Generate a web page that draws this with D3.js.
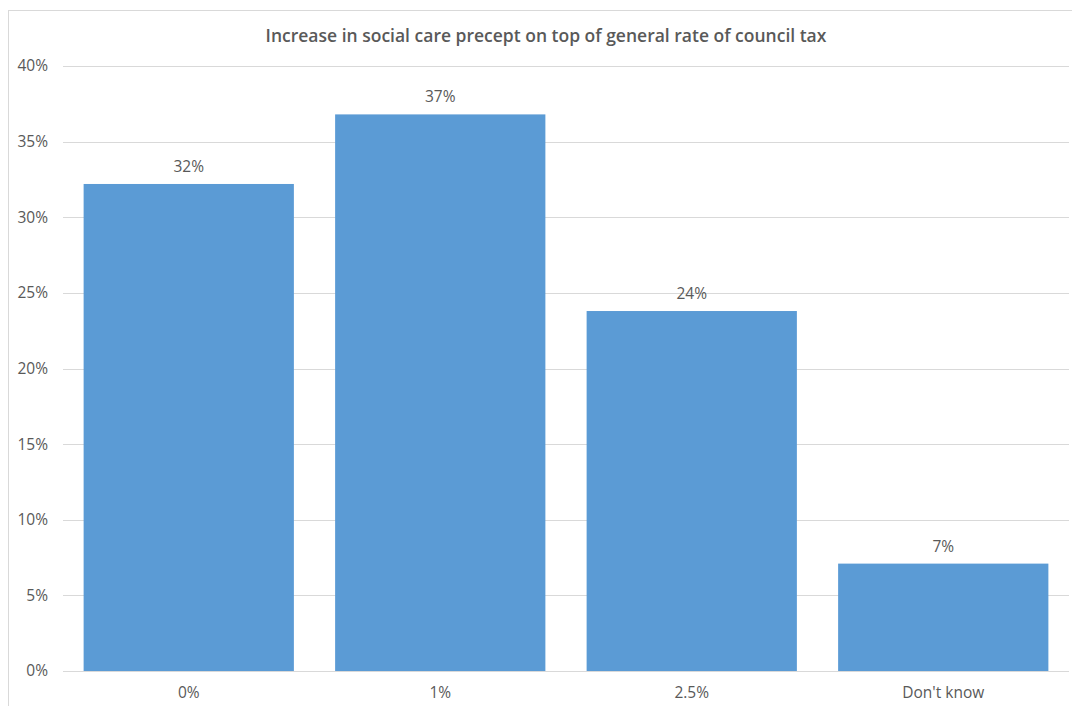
<!DOCTYPE html>
<html><head><meta charset="utf-8">
<script src="https://cdn.jsdelivr.net/npm/d3@7"></script>
<style>body{margin:0;background:#fff;}svg{display:block;}</style>
</head><body>
<script>
const categories = ["0%", "1%", "2.5%", "Don't know"];
const values = [0.322, 0.368, 0.238, 0.071];
const labels = ["32%", "37%", "24%", "7%"];
const yTicks = [0, 0.05, 0.10, 0.15, 0.20, 0.25, 0.30, 0.35, 0.40];
const title = "Increase in social care precept on top of general rate of council tax";

const W = 1072, H = 706;
const svg = d3.select("body").append("svg").attr("width", W).attr("height", H);
const font = "'Open Sans', 'Liberation Sans', sans-serif";
const textColor = "#595959";

svg.append("rect").attr("x", 8.5).attr("y", 10.5).attr("width", W + 10).attr("height", H + 10)
  .attr("fill", "#fff").attr("stroke", "#d9d9d9").attr("stroke-width", 1);

const m = {left: 63, right: 1069, top: 66, bottom: 671};
const x = d3.scaleBand().domain(categories).range([m.left, m.right]).paddingInner(0.164).paddingOuter(0.082);
const y = d3.scaleLinear().domain([0, 0.40]).range([m.bottom, m.top]);

// gridlines
svg.append("g").selectAll("line").data(yTicks).join("line")
  .attr("x1", m.left).attr("x2", m.right)
  .attr("y1", d => Math.round(y(d)) + 0.5).attr("y2", d => Math.round(y(d)) + 0.5)
  .attr("stroke", "#d9d9d9").attr("stroke-width", 1);

// y axis labels
const yAxis = d3.axisLeft(y).tickValues(yTicks).tickFormat(d3.format(".0%")).tickSize(0).tickPadding(0);
const ga = svg.append("g").attr("transform", `translate(${m.left - 15},0)`).call(yAxis);
ga.select(".domain").remove();
ga.selectAll("text").attr("font-family", font).attr("font-size", 15.5).attr("fill", textColor);

// bars
svg.append("g").selectAll("rect").data(values).join("rect")
  .attr("x", (d, i) => x(categories[i]))
  .attr("width", x.bandwidth())
  .attr("y", d => y(d))
  .attr("height", d => y(0) - y(d))
  .attr("fill", "#5b9bd5");

// data labels
svg.append("g").selectAll("text").data(values).join("text")
  .attr("x", (d, i) => x(categories[i]) + x.bandwidth() / 2)
  .attr("y", d => y(d) - 12)
  .attr("text-anchor", "middle")
  .attr("font-family", font).attr("font-size", 15.5).attr("fill", textColor)
  .text((d, i) => labels[i]);

// x axis
const xAxis = d3.axisBottom(x).tickSize(0).tickPadding(0);
const gx = svg.append("g").attr("transform", `translate(0,${m.bottom + 16})`).call(xAxis);
gx.select(".domain").remove();
gx.selectAll("text").attr("font-family", font).attr("font-size", 15.5).attr("fill", textColor).attr("dy", "0.71em");

// title
svg.append("text").attr("x", 546).attr("y", 42).attr("text-anchor", "middle")
  .attr("font-family", font).attr("font-size", 17.5).attr("font-weight", 600).attr("fill", textColor)
  .text(title);
</script>
</body></html>
